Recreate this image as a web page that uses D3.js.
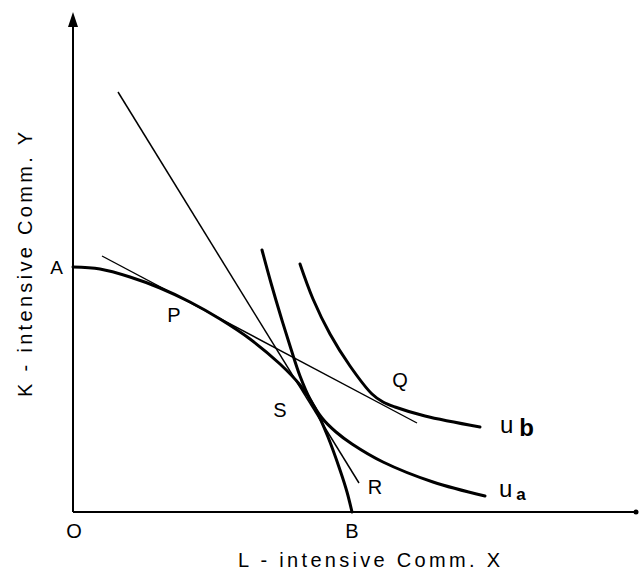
<!DOCTYPE html>
<html>
<head>
<meta charset="utf-8">
<script src="https://cdn.jsdelivr.net/npm/d3@7/dist/d3.min.js"></script>
<style>
  html, body { margin: 0; padding: 0; background: #fff; }
  text { font-family: "Liberation Sans", Arial, sans-serif; fill: #000; }
</style>
</head>
<body>
<svg id="chart" width="639" height="570"></svg>
<script>
// Data (arbitrary units: origin O at (0,0))
const ppf = [[0,245],[27,243],[57,235],[87,224],[117,210],[147,193],[177,173],[207,148],[227,127],[242,104],[255,75],[267,42],[274,20],[279,0]];
const ua  = [[189,262],[198,229],[208,195],[218,163],[227,136],[237,113],[249,94],[263,80],[279,68],[310,50],[360,30],[412,16]];
const ub  = [[227,248],[240,213],[257,178],[277,146],[299,118],[310,110],[322,105],[352,96],[407,85]];
const steepLine = [[45,420],[286,29]];
const flatLine  = [[29,256],[344,89]];
const pointLabels = [
  {t:"P", x:101, y:197},
  {t:"S", x:207, y:102},
  {t:"Q", x:327, y:132},
  {t:"R", x:302, y:25}
];
const axisLabels = [
  {t:"O", x:1, y:-19},
  {t:"B", x:279, y:-19}
];
const xTitle = "L - intensive  Comm.  X";
const yTitle = "K - intensive  Comm.  Y";

const svg = d3.select("#chart");
const x = d3.scaleLinear().domain([0, 562]).range([73, 635]);
const y = d3.scaleLinear().domain([0, 500]).range([512, 12]);

// axes
svg.append("line").attr("x1", x(0)).attr("y1", y(0)).attr("x2", x(0)).attr("y2", y(486))
  .attr("stroke", "#000").attr("stroke-width", 2);
svg.append("path")
  .attr("d", `M${x(0)},${y(500)} L${x(0)-5},${y(485)} L${x(0)+5},${y(485)} Z`)
  .attr("fill", "#000");
svg.append("line").attr("x1", x(0)).attr("y1", y(0)).attr("x2", x(562)).attr("y2", y(0))
  .attr("stroke", "#000").attr("stroke-width", 2);
svg.append("circle").attr("cx", x(563)).attr("cy", y(0)).attr("r", 2.5).attr("fill", "#000");

const line = d3.line().x(d => x(d[0])).y(d => y(d[1]));
const curve = d3.line().x(d => x(d[0])).y(d => y(d[1])).curve(d3.curveCatmullRom.alpha(0.5));

// thin price lines
svg.append("path").attr("d", line(steepLine)).attr("fill", "none").attr("stroke", "#000").attr("stroke-width", 1.5);
svg.append("path").attr("d", line(flatLine)).attr("fill", "none").attr("stroke", "#000").attr("stroke-width", 1.4);

// thick curves
[ppf, ua, ub].forEach(c => {
  svg.append("path").attr("d", curve(c)).attr("fill", "none")
    .attr("stroke", "#000").attr("stroke-width", 3).attr("stroke-linecap", "round");
});

// labels
svg.append("text").attr("x", x(0) - 10).attr("y", y(245) + 7).attr("text-anchor", "end")
  .attr("font-size", 19).text("A");
pointLabels.concat(axisLabels).forEach(l => {
  svg.append("text").attr("x", x(l.x)).attr("y", y(l.y) + 7).attr("text-anchor", "middle")
    .attr("font-size", 20).text(l.t);
});

// curve labels
const lb = svg.append("text").attr("x", x(427)).attr("y", y(79)).attr("font-size", 24);
lb.append("tspan").text("u");
lb.append("tspan").attr("dx", 6).attr("dy", 3).attr("font-weight", "bold").attr("font-size", 24).text("b");
const la = svg.append("text").attr("x", x(426)).attr("y", y(15)).attr("font-size", 24);
la.append("tspan").text("u");
la.append("tspan").attr("dx", 4).attr("dy", 3).attr("font-weight", "bold").attr("font-size", 17).text("a");

// axis titles
svg.append("text").attr("x", 238).attr("y", 567).attr("font-size", 20)
  .attr("textLength", 262).attr("lengthAdjust", "spacing").text(xTitle);
svg.append("text").attr("transform", "translate(32,397) rotate(-90)").attr("font-size", 20)
  .attr("textLength", 265).attr("lengthAdjust", "spacing").text(yTitle);
</script>
</body>
</html>
